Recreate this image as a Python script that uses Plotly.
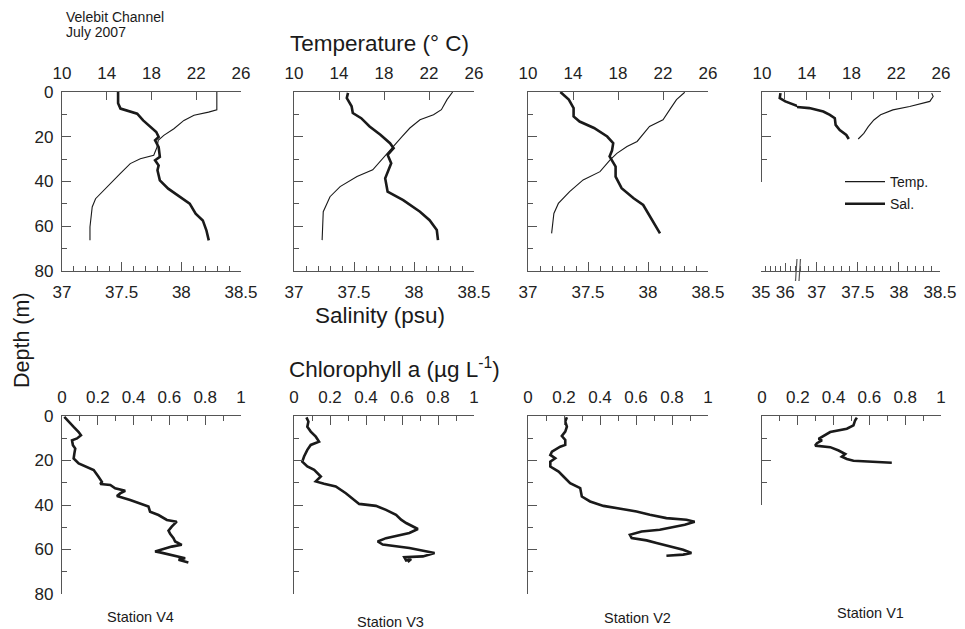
import plotly.graph_objects as go

# ---- data (depth in m) ----
# Station V4
v4_temp_depth = [0, 8, 9, 10.4, 12.7, 16.4, 19.4, 21.6, 24.6, 28.3, 29.8, 32, 36.5, 42.5, 47.7, 51.4, 60.3, 66.3]
v4_temp = [23.84, 23.84, 23.1, 21.8, 20.9, 20.0, 19.1, 18.6, 18.5, 18.2, 17.0, 16.1, 15.2, 14.0, 13.0, 12.7, 12.5, 12.5]
v4_sal_depth = [0, 5, 7.4, 8.2, 9.7, 12.7, 15.6, 17.9, 20.1, 21.6, 24.6, 29, 30.5, 32.8, 35, 37.2, 39.5, 43.2, 46.9, 49.9, 54.4, 57.4, 61.8, 66.3]
v4_sal = [37.47, 37.47, 37.49, 37.54, 37.63, 37.68, 37.74, 37.79, 37.81, 37.78, 37.81, 37.82, 37.78, 37.81, 37.80, 37.81, 37.82, 37.89, 37.99, 38.07, 38.12, 38.18, 38.21, 38.23]
v4_chl_depth = [0.4, 2.7, 4.9, 7.2, 8.7, 10.1, 10.9, 13.1, 14.6, 16.9, 19.1, 21.3, 22.8, 24.3, 27.3, 29.6, 30.6, 31.0, 32.5, 33.6, 34.8, 36.0, 37.8, 39.3, 40.7, 43.0, 44.5, 46.7, 47.5, 49.7, 51.5, 53.0, 54.9, 56.4, 57.9, 58.7, 60.9, 61.3, 62.8, 63.9, 64.6, 65.8]
v4_chl = [0.013, 0.037, 0.065, 0.093, 0.106, 0.084, 0.056, 0.061, 0.074, 0.069, 0.065, 0.093, 0.139, 0.177, 0.204, 0.223, 0.214, 0.27, 0.297, 0.353, 0.325, 0.307, 0.381, 0.437, 0.483, 0.492, 0.539, 0.586, 0.641, 0.613, 0.595, 0.604, 0.623, 0.632, 0.669, 0.613, 0.52, 0.548, 0.641, 0.688, 0.651, 0.706]

# Station V3
v3_temp_depth = [0, 3.4, 7.9, 10.2, 12.4, 16.1, 19.9, 24.4, 28.8, 34.8, 37.8, 42.3, 46.8, 53.5, 66.2]
v3_temp = [24.1, 23.6, 23.1, 22.4, 21.2, 20.3, 19.6, 18.8, 18.1, 17.0, 15.6, 14.1, 13.2, 12.6, 12.5]
v3_sal_depth = [0.4, 2.7, 6.4, 9.4, 11.7, 15.4, 19.1, 22.9, 25.1, 28.1, 31.8, 37.1, 38.6, 41.6, 44.5, 48.3, 53.5, 57.3, 61.7, 66.2]
v3_sal = [37.45, 37.44, 37.48, 37.49, 37.56, 37.63, 37.72, 37.80, 37.83, 37.78, 37.81, 37.77, 37.76, 37.77, 37.78, 37.91, 38.05, 38.13, 38.19, 38.20]
v3_chl_depth = [0.6, 2.5, 4.8, 7.0, 9.3, 11.5, 13.0, 15.2, 18.2, 20.5, 22.7, 24.2, 27.2, 29.4, 30.5, 31.7, 34.7, 38.4, 39.5, 40.4, 42.2, 44.4, 46.6, 48.1, 50.8, 52.6, 54.9, 56.4, 57.8, 59.3, 61.6, 63.1, 63.5, 64.9, 64.3, 65.6]
v3_chl = [0.069, 0.08, 0.074, 0.093, 0.121, 0.139, 0.093, 0.074, 0.056, 0.046, 0.074, 0.112, 0.149, 0.121, 0.167, 0.232, 0.288, 0.344, 0.362, 0.455, 0.511, 0.567, 0.595, 0.623, 0.688, 0.641, 0.511, 0.465, 0.493, 0.641, 0.781, 0.716, 0.613, 0.623, 0.651, 0.632]

# Station V2
v2_temp_depth = [0.1, 3.4, 7.9, 12.4, 15.4, 19.1, 22.1, 24.4, 27.4, 30.3, 35.6, 39.3, 44.5, 49.8, 54.3, 63.2]
v2_temp = [23.93, 23.2, 22.6, 22.0, 20.8, 20.2, 19.7, 18.8, 17.9, 17.3, 16.4, 14.9, 13.7, 12.7, 12.3, 12.1]
v2_sal_depth = [0, 3.4, 7.2, 10.9, 13.2, 16.1, 19.9, 22.9, 26.2, 28.8, 33.3, 37.8, 43, 47.5, 50.5, 55.8, 63.2]
v2_sal = [37.27, 37.34, 37.38, 37.38, 37.43, 37.55, 37.66, 37.71, 37.70, 37.68, 37.73, 37.73, 37.78, 37.88, 37.96, 38.02, 38.10]
v2_chl_depth = [0.6, 2.5, 4.8, 7.0, 9.0, 10.8, 13.0, 13.8, 16.0, 17.5, 19.0, 20.5, 22.7, 25.0, 27.2, 30.2, 32.4, 36.2, 38.4, 40.4, 41.9, 42.9, 44.4, 45.9, 46.6, 47.5, 48.9, 51.1, 51.9, 53.4, 54.9, 55.9, 57.1, 58.6, 60.1, 61.6, 62.3, 62.8]
v2_chl = [0.216, 0.207, 0.216, 0.207, 0.188, 0.207, 0.207, 0.179, 0.133, 0.124, 0.151, 0.124, 0.124, 0.17, 0.197, 0.234, 0.29, 0.299, 0.345, 0.419, 0.53, 0.603, 0.677, 0.769, 0.88, 0.926, 0.871, 0.732, 0.631, 0.566, 0.576, 0.659, 0.714, 0.788, 0.862, 0.908, 0.862, 0.769]

# Station V1
v1_temp_depth = [0.5, 2, 4.2, 6.5, 8, 10.2, 12.5, 15.5, 18.5, 21]
v1_temp = [25.17, 25.3, 25.0, 23.2, 21.7, 20.6, 20.0, 19.5, 19.1, 18.6]
v1_sal_depth = [0.5, 2.7, 4.2, 5.7, 7.2, 8.7, 10.2, 11.7, 14.7, 17, 19.2, 21]
v1_sal = [35.8, 35.77, 36.0, 36.47, 36.91, 37.08, 37.16, 37.22, 37.23, 37.28, 37.36, 37.39]
v1_chl_depth = [0.75, 2.0, 4.2, 5.7, 7.2, 8.8, 10.3, 11.0, 12.2, 13.3, 14.0, 15.5, 17.1, 18.3, 19.3, 20.1, 20.4, 21.0]
v1_chl = [0.53, 0.52, 0.511, 0.474, 0.381, 0.344, 0.316, 0.335, 0.307, 0.297, 0.381, 0.428, 0.465, 0.446, 0.474, 0.511, 0.604, 0.725]

stations = ["Station V4", "Station V3", "Station V2", "Station V1"]

# page body has an 8px margin, so the figure is sized to end at the window edge
OFF = 8
W, H = 965 - OFF, 629 - OFF
FONT = "Liberation Sans, Arial, sans-serif"
INK = "#1a1a1a"
AX = "#555555"
TITLE = 22.5


def px(x):
    return (x - OFF) / W


def py(y):
    return 1 - (y - OFF) / H


def dx(a, b):
    return [px(a), px(b)]


def dy(top, bottom):
    return [py(bottom), py(top)]


fig = go.Figure()

thin = dict(color=INK, width=1.1)
thick = dict(color=INK, width=2.6)

# top row: temperature (thin) + salinity (thick)
top_data = [
    (v4_temp, v4_temp_depth, v4_sal, v4_sal_depth, "x", "x2", "y"),
    (v3_temp, v3_temp_depth, v3_sal, v3_sal_depth, "x3", "x4", "y2"),
    (v2_temp, v2_temp_depth, v2_sal, v2_sal_depth, "x5", "x6", "y3"),
]
for t, td, s, sd, xt, xs, yy in top_data:
    fig.add_trace(go.Scatter(x=t, y=td, mode="lines", line=thin, xaxis=xt, yaxis=yy, showlegend=False))
    fig.add_trace(go.Scatter(x=s, y=sd, mode="lines", line=thick, xaxis=xs, yaxis=yy, showlegend=False))

# station V1 (broken salinity axis -> two axes)
fig.add_trace(go.Scatter(x=v1_temp, y=v1_temp_depth, mode="lines", line=thin, xaxis="x7", yaxis="y4",
                         name="Temp.", legendgroup="a"))
fig.add_trace(go.Scatter(x=v1_sal, y=v1_sal_depth, mode="lines", line=thick, xaxis="x8", yaxis="y4",
                         showlegend=False))
fig.add_trace(go.Scatter(x=v1_sal, y=v1_sal_depth, mode="lines", line=thick, xaxis="x9", yaxis="y4",
                         name="Sal.", legendgroup="b"))

# bottom row: chlorophyll
for c, cd, xa, ya in [(v4_chl, v4_chl_depth, "x10", "y5"), (v3_chl, v3_chl_depth, "x11", "y6"),
                      (v2_chl, v2_chl_depth, "x12", "y7"), (v1_chl, v1_chl_depth, "x13", "y8")]:
    fig.add_trace(go.Scatter(x=c, y=cd, mode="lines", line=thick, xaxis=xa, yaxis=ya, showlegend=False))

tickfont = dict(family=FONT, size=17, color="#222")
common = dict(showgrid=False, zeroline=False, showline=True, linecolor=AX, linewidth=1.4,
              ticks="inside", tickcolor=AX, tickwidth=1.2, tickfont=tickfont, automargin=False)

cols = [(62, 241), (294, 474), (528, 708), (762, 941)]
layout = {}

# temperature axes (top side)
for i, xid in enumerate(["xaxis", "xaxis3", "xaxis5", "xaxis7"]):
    a, b = cols[i]
    yref = ["y", "y2", "y3", "y4"][i]
    ax = dict(common, domain=dx(a, b), range=[10, 26], side="top", anchor=yref,
              tickvals=[10, 14, 18, 22, 26], ticklen=8, ticklabelstandoff=5)
    if i == 3:
        ax["minor"] = dict(dtick=2, ticklen=7, ticks="inside", tickcolor=AX)
    layout[xid] = ax

# salinity axes (bottom side)
for i, xid in enumerate(["xaxis2", "xaxis4", "xaxis6"]):
    a, b = cols[i]
    ov = ["x", "x3", "x5"][i]
    layout[xid] = dict(common, domain=dx(a, b), range=[37, 38.5], side="bottom", overlaying=ov,
                       tickvals=[37, 37.5, 38, 38.5], ticktext=["37", "37.5", "38", "38.5"], ticklen=9,
                       ticklabelstandoff=5,
                       minor=dict(dtick=0.1, ticklen=5, ticks="inside", tickcolor=AX))

sal_pos = py(271)
layout["xaxis8"] = dict(common, domain=dx(761, 797), range=[35, 36.48], anchor="free", position=sal_pos,
                        side="bottom", tickvals=[35, 36], ticktext=["35", "36"], ticklen=8, ticklabelstandoff=5,
                        minor=dict(dtick=0.2, ticklen=5, ticks="inside", tickcolor=AX))
layout["xaxis9"] = dict(common, domain=dx(797, 940), range=[36.76, 38.5], anchor="free", position=sal_pos,
                        side="bottom", tickvals=[37, 37.5, 38, 38.5], ticktext=["37", "37.5", "38", "38.5"],
                        ticklen=9, ticklabelstandoff=5,
                        minor=dict(dtick=0.1, ticklen=5, ticks="inside", tickcolor=AX))

# depth axes
ycommon = dict(common, ticklen=9, dtick=20, tick0=0, ticklabelstandoff=4,
               minor=dict(dtick=10, ticklen=5, ticks="inside", tickcolor=AX))
for i, yid in enumerate(["yaxis", "yaxis2", "yaxis3"]):
    layout[yid] = dict(ycommon, domain=dy(92, 271), range=[80, 0], anchor=["x", "x3", "x5"][i],
                       showticklabels=(i == 0))
layout["yaxis4"] = dict(ycommon, domain=dy(92, 181.5), range=[40, 0], anchor="x7", showticklabels=False)

chl_x = ["xaxis10", "xaxis11", "xaxis12", "xaxis13"]
chl_y = ["yaxis5", "yaxis6", "yaxis7", "yaxis8"]
for i in range(4):
    a, b = cols[i]
    layout[chl_x[i]] = dict(common, domain=dx(a, b), range=[0, 1], side="top", anchor=chl_y[i].replace("axis", ""),
                            tickvals=[0, 0.2, 0.4, 0.6, 0.8, 1], ticktext=["0", "0.2", "0.4", "0.6", "0.8", "1"],
                            ticklen=9, ticklabelstandoff=5,
                            minor=dict(dtick=0.1, ticklen=5, ticks="inside", tickcolor=AX))
    if i < 3:
        layout[chl_y[i]] = dict(ycommon, domain=dy(416, 594), range=[80, 0], anchor=chl_x[i].replace("axis", ""),
                                showticklabels=(i == 0))
    else:
        layout[chl_y[i]] = dict(ycommon, domain=dy(416, 505), range=[40, 0], anchor="x13",
                                showticklabels=False)

fig.update_layout(**layout)

# axis break marks on V1 salinity axis
for x0 in (795.5, 799):
    fig.add_shape(type="line", xref="paper", yref="paper",
                  x0=px(x0), x1=px(x0 + 1.5), y0=py(281), y1=py(259),
                  line=dict(color=AX, width=1.2))

ann = []


def text(x, y, s, size, **kw):
    ann.append(dict(x=px(x), y=py(y), xref="paper", yref="paper", text=s, showarrow=False,
                    font=dict(family=FONT, size=size, color="#1a1a1a"), **kw))


text(64, 17, "Velebit Channel", 14, xanchor="left", yanchor="middle")
text(64, 32, "July 2007", 14, xanchor="left", yanchor="middle")
text(379, 43, "Temperature (° C)", TITLE, xanchor="center", yanchor="middle")
text(380, 315, "Salinity (psu)", TITLE, xanchor="center", yanchor="middle")
text(394, 368, "Chlorophyll a (µg L<sup>-1</sup>)", TITLE, xanchor="center", yanchor="middle")
text(22, 340, "Depth (m)", 21.5, xanchor="center", yanchor="middle", textangle=-90)
for s, (x, y) in zip(stations, [(140, 617), (390, 622), (637, 618), (870, 613)]):
    text(x, y, s, 14.5, xanchor="center", yanchor="middle")

fig.update_layout(
    annotations=ann,
    width=W, height=H,
    margin=dict(l=0, r=0, t=0, b=0, autoexpand=False),
    paper_bgcolor="white",
    plot_bgcolor="rgba(0,0,0,0)",
    showlegend=True,
    legend=dict(x=px(840), y=py(166), xanchor="left", yanchor="top",
                font=dict(family=FONT, size=14, color="#1a1a1a"), itemwidth=40,
                bgcolor="rgba(0,0,0,0)", tracegroupgap=1),
)

fig.write_html("out.html")
